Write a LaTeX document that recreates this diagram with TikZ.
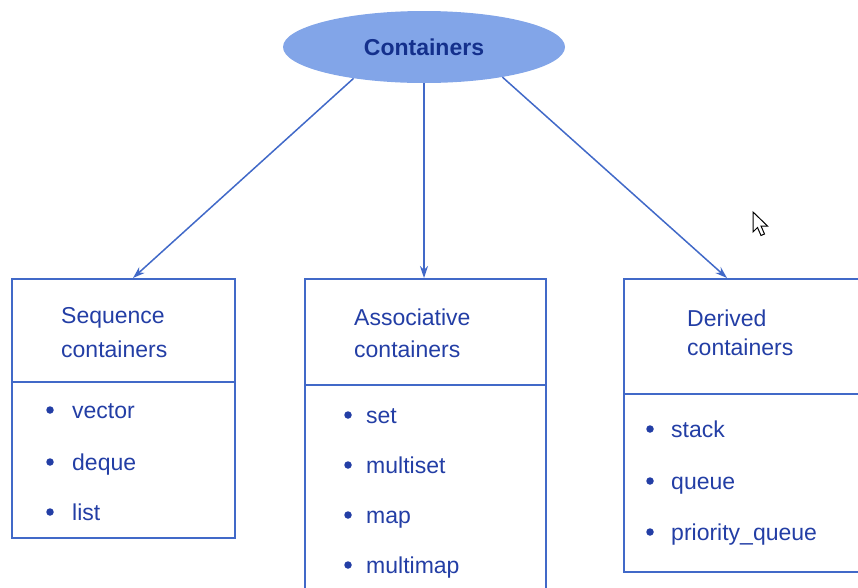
\documentclass[tikz,border=0pt]{standalone}
\usepackage{fontspec}
\setmainfont{Liberation Sans}
\usetikzlibrary{shapes.geometric,arrows.meta}
\definecolor{edge}{RGB}{65,105,200}
\definecolor{ink}{RGB}{35,62,165}
\definecolor{bubble}{RGB}{130,165,232}
\definecolor{bubbleink}{RGB}{20,48,140}

\begin{document}
\begin{tikzpicture}[x=1pt,y=-1pt,
  panel/.style={draw=edge, line width=2pt, inner sep=0pt, anchor=north west},
  divider/.style={draw=edge, line width=2pt},
  lbl/.style={text=ink, font=\fontsize{23}{28}\selectfont, inner sep=0pt, anchor=base west},
  dotmark/.style={fill=ink, draw=none, circle, minimum size=7.5pt, inner sep=0pt},
  link/.style={draw=edge, line width=1.5pt, -{Stealth[length=12pt,width=8pt]}}]

\useasboundingbox (0,0) rectangle (858,587);
\clip (0,0) rectangle (858,587);

% root of the hierarchy
\node[ellipse, fill=bubble, minimum width=282pt, minimum height=72pt, inner sep=0pt,
      text=bubbleink, font=\fontsize{23}{28}\selectfont\bfseries] (top) at (424,47) {Containers};

% the three container families
\node[panel, minimum width=223pt, minimum height=259pt] (seq) at (11,278) {};
\node[panel, minimum width=241pt, minimum height=330pt] (assoc) at (304,278) {};
\node[panel, minimum width=250pt, minimum height=293pt] (derived) at (623,278) {};

\draw[divider] (11,382) -- (234,382);
\draw[divider] (304,385) -- (545,385);
\draw[divider] (623,394) -- (873,394);

% headings
\node[lbl] (seqA) at (61,323) {Sequence};
\node[lbl] (seqB) at (61,357) {containers};
\node[lbl] (assA) at (354,325) {Associative};
\node[lbl] (assB) at (354,357) {containers};
\node[lbl] (derA) at (687,326) {Derived};
\node[lbl] (derB) at (687,355) {containers};

% sequence containers
\node[dotmark] (sb1) at (50,410) {};
\node[lbl] (s1) at (72,418) {vector};
\node[dotmark] (sb2) at (50,462) {};
\node[lbl] (s2) at (72,470) {deque};
\node[dotmark] (sb3) at (50,512) {};
\node[lbl] (s3) at (72,520) {list};

% associative containers
\node[dotmark] (ab1) at (348,415) {};
\node[lbl] (a1) at (366,423) {set};
\node[dotmark] (ab2) at (348,465) {};
\node[lbl] (a2) at (366,473) {multiset};
\node[dotmark] (ab3) at (348,515) {};
\node[lbl] (a3) at (366,523) {map};
\node[dotmark] (ab4) at (348,565) {};
\node[lbl] (a4) at (366,573) {multimap};

% derived containers
\node[dotmark] (db1) at (650,429) {};
\node[lbl] (d1) at (671,437) {stack};
\node[dotmark] (db2) at (650,481) {};
\node[lbl] (d2) at (671,489) {queue};
\node[dotmark] (db3) at (650,532) {};
\node[lbl] (d3) at (671,540) {priority\_queue};

% connectors
\coordinate (seqin) at (133,278);
\coordinate (assin) at (424,278);
\coordinate (derin) at (727,278);
\draw[link] (top.204) -- (seqin);
\draw[link] (top.south) -- (assin);
\draw[link] (top.339) -- (derin);

% mouse pointer
\draw[black, fill=white, line width=1pt, line join=miter]
  (753,212) -- ++(0,20) -- ++(4.5,-4.5) -- ++(3.5,8) -- ++(3.5,-1.5)
  -- ++(-3.5,-8) -- ++(6.5,0) -- cycle;
\end{tikzpicture}
\end{document}
